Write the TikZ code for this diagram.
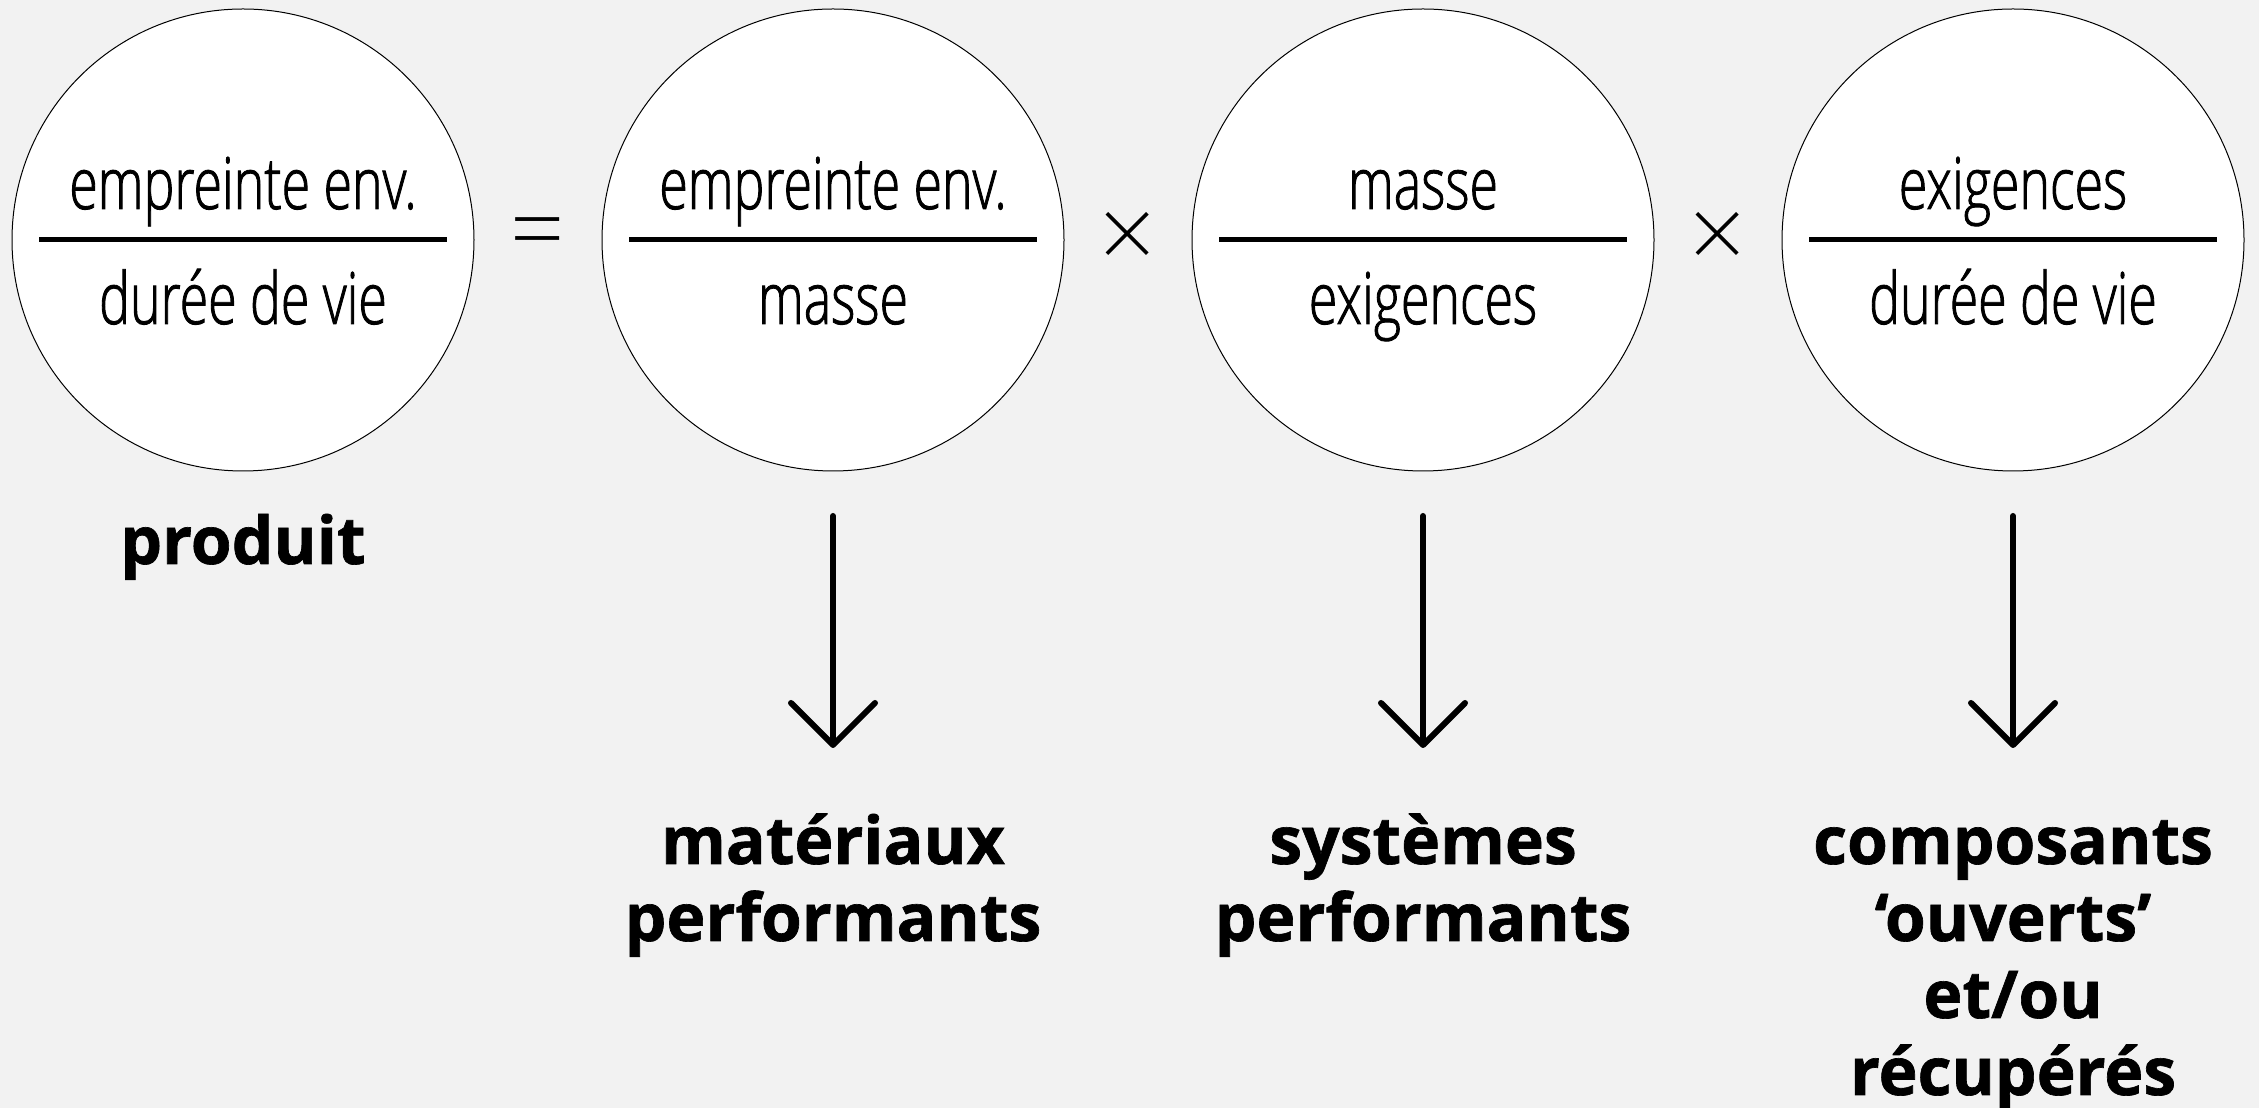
\documentclass[tikz,border=0pt]{standalone}
\usepackage{fontspec}
\setmainfont{Open Sans}
\IfFontExistsTF{Open Sans Light}
  {\newfontfamily\thinfont[FakeStretch=0.72, FakeBold=1.2]{Open Sans Light}
   \newfontfamily\opfont{Open Sans Light}}
  {\newfontfamily\thinfont[FakeStretch=0.71]{Open Sans}
   \newfontfamily\opfont{Open Sans}}
\IfFontExistsTF{Open Sans ExtraBold}
  {\newfontfamily\heavyfont{Open Sans ExtraBold}}
  {\newfontfamily\heavyfont[FakeBold=1]{Open Sans Bold}}
\usetikzlibrary{arrows.meta, positioning, calc}
\definecolor{paper}{HTML}{F2F2F2}

\begin{document}
\begin{tikzpicture}[
    x=1pt, y=1pt,
    node distance=128pt,
    disc/.style={circle, draw, line width=1pt, fill=white, minimum size=462pt, inner sep=0pt, outer sep=0pt},
    term/.style={font=\thinfont\fontsize{72pt}{80pt}\selectfont, inner sep=0pt, anchor=base},
    bar/.style={line width=5pt},
    op/.style={font=\opfont\fontsize{95pt}{95pt}\selectfont, inner sep=0pt},
    lbl/.style={font=\heavyfont\fontsize{66pt}{77pt}\selectfont, align=center, inner sep=0pt, anchor=base},
    arr/.style={line width=6pt, line cap=round, -{Straight Barb[length=42pt, width=84pt, line join=round, line cap=round]}}
  ]
  % Page
  \fill[paper] (0,0) rectangle (2259,1108);
  \useasboundingbox (0,0) rectangle (2259,1108);

  % Circles
  \node[disc] (prod) at (243,868) {};
  \node[disc, right=of prod] (mat) {};
  \node[disc, right=of mat] (sys) {};
  \node[disc, right=of sys] (comp) {};

  % Fraction bars
  \draw[bar] ([xshift=-204pt]prod.center) -- ([xshift=204pt]prod.center);
  \draw[bar] ([xshift=-204pt]mat.center) -- ([xshift=204pt]mat.center);
  \draw[bar] ([xshift=-204pt]sys.center) -- ([xshift=204pt]sys.center);
  \draw[bar] ([xshift=-204pt]comp.center) -- ([xshift=204pt]comp.center);

  % Numerators and denominators
  \node[term] (prod-num) at ([yshift=31pt]prod.center) {empreinte env.};
  \node[term] (prod-den) at ([yshift=-84pt]prod.center) {durée de vie};
  \node[term] (mat-num) at ([yshift=31pt]mat.center) {empreinte env.};
  \node[term] (mat-den) at ([yshift=-84pt]mat.center) {masse};
  \node[term] (sys-num) at ([yshift=31pt]sys.center) {masse};
  \node[term] (sys-den) at ([yshift=-84pt]sys.center) {exigences};
  \node[term] (comp-num) at ([yshift=31pt]comp.center) {exigences};
  \node[term] (comp-den) at ([yshift=-84pt]comp.center) {durée de vie};

  % Operators
  \node[op] (eq) at ($(prod.east)!0.5!(mat.west)$) {=};
  \node[op] (times1) at ($(mat.east)!0.5!(sys.west)$) {×};
  \node[op] (times2) at ($(sys.east)!0.5!(comp.west)$) {×};

  % Arrow ends
  \coordinate (mat-tip) at ([yshift=-277pt]mat.south);
  \coordinate (sys-tip) at ([yshift=-277pt]sys.south);
  \coordinate (comp-tip) at ([yshift=-277pt]comp.south);

  % Labels (base sits on the last line)
  \node[lbl] (prod-lbl) at ([yshift=-93pt]prod.south) {produit};
  \node[lbl] (mat-lbl) at ([yshift=-193pt]mat-tip) {matériaux\\performants};
  \node[lbl] (sys-lbl) at ([yshift=-193pt]sys-tip) {systèmes\\performants};
  \node[lbl] (comp-lbl) at ([yshift=-347pt]comp-tip) {composants\\‘ouverts’\\et/ou\\récupérés};

  % Arrows
  \draw[arr, shorten <=45pt] (mat.south) -- (mat-tip);
  \draw[arr, shorten <=45pt] (sys.south) -- (sys-tip);
  \draw[arr, shorten <=45pt] (comp.south) -- (comp-tip);
\end{tikzpicture}
\end{document}
